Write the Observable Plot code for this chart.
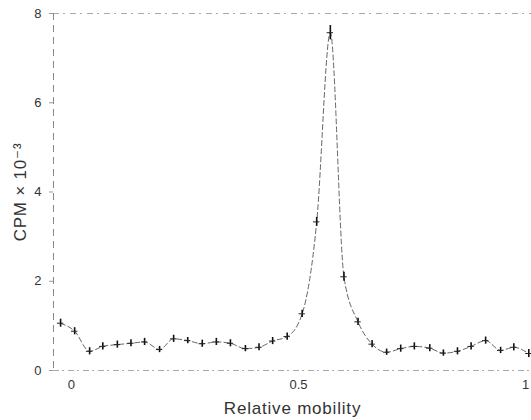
<!DOCTYPE html>
<html>
<head>
<meta charset="utf-8">
<script src="https://cdn.jsdelivr.net/npm/d3@7"></script>
<script src="https://cdn.jsdelivr.net/npm/@observablehq/plot@0.6"></script>
<style>
  html, body { margin: 0; padding: 0; background: #fff; }
  svg { font-family: "Liberation Sans", "DejaVu Sans", sans-serif; }
</style>
</head>
<body>
<div id="chart"></div>
<script>
// Relative mobility of each fraction
const mobility = [-0.024, 0.007, 0.040, 0.069, 0.101, 0.131, 0.161, 0.194, 0.225, 0.256,
                  0.288, 0.319, 0.350, 0.383, 0.413, 0.443, 0.475, 0.508, 0.540, 0.570,
                  0.600, 0.631, 0.662, 0.694, 0.725, 0.755, 0.789, 0.819, 0.850, 0.880,
                  0.912, 0.945, 0.974, 1.007];
// CPM x 10^-3
const cpm = [1.06, 0.88, 0.43, 0.54, 0.58, 0.61, 0.64, 0.47, 0.71, 0.67,
             0.60, 0.64, 0.61, 0.49, 0.52, 0.66, 0.76, 1.27, 3.33, 7.57,
             2.10, 1.09, 0.59, 0.41, 0.49, 0.54, 0.50, 0.39, 0.43, 0.54,
             0.67, 0.45, 0.52, 0.38];
// error bar half-length
const err = [0.09, 0.08, 0.08, 0.08, 0.08, 0.08, 0.08, 0.07, 0.08, 0.07,
             0.08, 0.08, 0.08, 0.07, 0.08, 0.08, 0.08, 0.08, 0.10, 0.16,
             0.10, 0.08, 0.08, 0.07, 0.08, 0.08, 0.08, 0.07, 0.08, 0.08,
             0.08, 0.07, 0.08, 0.09];
const xTicks = [0, 0.5, 1];
const xTickLabels = ["0", "0.5", "1"];
const yTicks = [0, 2, 4, 6, 8];

const data = mobility.map((m, i) => ({x: m, y: cpm[i], e: err[i]}));

const chart = Plot.plot({
  width: 531,
  height: 420,
  marginLeft: 53,
  marginTop: 13,
  marginRight: 0,
  marginBottom: 50,
  style: {fontSize: "13px", color: "#333", background: "#fff"},
  x: {domain: [-0.0396, 1.013], label: null},
  y: {domain: [0, 8], label: null},
  marks: [
    // frame lines (dashed, scanned look)
    Plot.ruleY([8], {stroke: "#aaa", strokeDasharray: "6,4,2,5", strokeWidth: 1}),
    Plot.ruleY([0], {stroke: "#aaa", strokeDasharray: "6,3,2,4", strokeWidth: 1}),
    Plot.ruleX([-0.0396], {stroke: "#888", strokeDasharray: "7,5", strokeWidth: 1}),
    Plot.axisY({ticks: yTicks, tickSize: 4, tickPadding: 8, stroke: "#999",
      label: "CPM × 10⁻³", labelAnchor: "center", labelArrow: "none", labelOffset: 40,
      fontSize: 13}),
    Plot.axisX({ticks: xTicks, tickFormat: (d, i) => xTickLabels[i], tickSize: 0, tickPadding: 9,
      label: "Relative mobility", labelAnchor: "center", labelArrow: "none", labelOffset: 43,
      fontSize: 13}),
    Plot.line(data, {x: "x", y: "y", curve: "monotone-x", stroke: "#666", strokeWidth: 1, strokeDasharray: "5,3"}),
    Plot.ruleX(data, {x: "x", y1: d => d.y - d.e, y2: d => d.y + d.e, stroke: "#111", strokeWidth: 1.6}),
    Plot.ruleY(data, {y: "y", x1: d => d.x - 0.007, x2: d => d.x + 0.007, stroke: "#222", strokeWidth: 1})
  ]
});
// enlarge axis label text
chart.querySelectorAll("g[aria-label='y-axis label'] text, g[aria-label='x-axis label'] text")
  .forEach(t => { t.setAttribute("font-size", "17px"); t.setAttribute("letter-spacing", "0.8px"); });
document.getElementById("chart").appendChild(chart);
</script>
</body>
</html>
